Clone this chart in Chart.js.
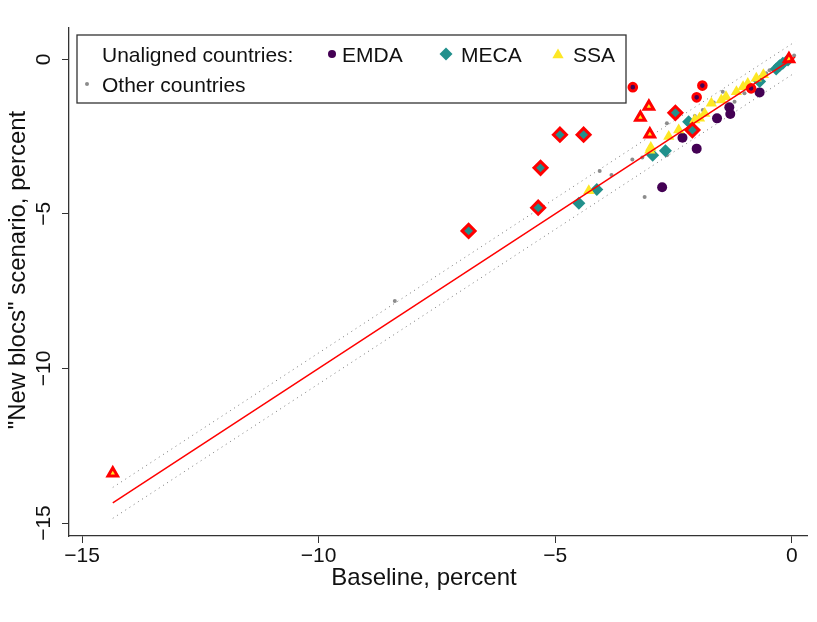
<!DOCTYPE html>
<html>
<head>
<meta charset="utf-8">
<title>New blocs vs baseline</title>
<script src="https://cdn.jsdelivr.net/npm/chart.js@4.4.1/dist/chart.umd.min.js"></script>
<style>
  html, body { margin: 0; padding: 0; background: #fff; }
  #wrap { width: 817px; height: 622px; }
</style>
</head>
<body>
<div id="wrap"><canvas id="myChart" width="817" height="622"></canvas></div>
<script>
// datos: [baseline, nuevo escenario] en porcentaje
const otherPoints = [
  [-8.39, -7.82], [-4.06, -3.61], [-3.81, -3.74], [-3.37, -3.24], [-3.16, -3.18],
  [-3.11, -4.45], [-2.64, -2.07], [-2.64, -3.10], [-2.05, -1.83], [-1.88, -1.64],
  [-1.65, -1.40], [-1.46, -1.05], [-1.21, -1.37], [-1.00, -1.10], [-0.54, -0.45],
  [-0.47, -0.35], [-0.30, -0.25], [-0.20, -0.10], [0.05, 0.12]
];
const emdaPoints = [
  [-0.68, -1.07], [-1.32, -1.55], [-1.30, -1.77], [-1.58, -1.91],
  [-2.31, -2.54], [-2.01, -2.89], [-2.74, -4.14]
];
const mecaPoints = [
  [-4.50, -4.66], [-4.12, -4.21], [-2.94, -3.10], [-2.67, -2.96], [-2.18, -2.02],
  [-0.68, -0.72], [-0.33, -0.31], [-0.26, -0.21], [-0.19, -0.13], [-0.08, -0.02]
];
const ssaPoints = [
  [-4.29, -4.25], [-3.00, -2.94], [-2.98, -2.85], [-2.60, -2.50], [-2.39, -2.29],
  [-2.05, -1.96], [-1.95, -1.91], [-1.84, -1.75], [-1.70, -1.42], [-1.49, -1.32],
  [-1.39, -1.21], [-1.17, -1.05], [-1.03, -0.89], [-0.93, -0.78], [-0.75, -0.61],
  [-0.60, -0.50]
];
// paises destacados (borde rojo)
const emdaRed = [[-3.36, -0.90], [-1.89, -0.85], [-2.01, -1.23], [-0.86, -0.94]];
const mecaRed = [
  [-6.83, -5.55], [-5.36, -4.80], [-5.31, -3.51], [-4.90, -2.44],
  [-4.40, -2.44], [-2.46, -1.73], [-2.10, -2.29]
];
const ssaRed = [[-14.35, -13.39], [-3.02, -1.53], [-3.20, -1.88], [-3.00, -2.42], [-0.06, 0.01]];
// linea roja y bandas punteadas
const fitLine = [[-14.35, -14.35], [0.07, 0.07]];
const upperBand = [[-14.35, -13.85], [0.07, 0.57]];
const lowerBand = [[-14.35, -14.85], [0.07, -0.43]];

const xTicks = [-15, -10, -5, 0];
const yTicks = [-15, -10, -5, 0];
const xTitle = 'Baseline, percent';
const yTitle = '"New blocs" scenario, percent';

const colEMDA = '#440154';
const colMECA = '#21908C';
const colSSA = '#FDE725';
const colOther = '#8c8c8c';
const colRed = '#FF0000';
const fontFam = "'Liberation Sans', Arial, Helvetica, sans-serif";

function toXY(arr) {
  return arr.map(p => ({ x: p[0], y: p[1] }));
}

function fmt(v) {
  return v < 0 ? '\u2212' + Math.abs(v) : String(v);
}

// titulos de ejes (desplazados como en el original)
const axisTitles = {
  id: 'axisTitles',
  afterDraw(chart) {
    const ctx = chart.ctx;
    ctx.save();
    ctx.font = '24px ' + fontFam;
    ctx.fillStyle = '#111';
    ctx.textAlign = 'center';
    ctx.textBaseline = 'middle';
    ctx.fillText(xTitle, 424, 578);
    ctx.translate(18, 270);
    ctx.rotate(-Math.PI / 2);
    ctx.fillText(yTitle, 0, 0);
    ctx.restore();
  }
};

// caja de leyenda dentro del grafico
const legendBox = {
  id: 'legendBox',
  afterDraw(chart) {
    const ctx = chart.ctx;
    ctx.save();
    ctx.fillStyle = '#fff';
    ctx.fillRect(77, 35, 549, 68);
    ctx.strokeStyle = '#333';
    ctx.lineWidth = 1.3;
    ctx.strokeRect(77, 35, 549, 68);

    ctx.font = '21px ' + fontFam;
    ctx.fillStyle = '#111';
    ctx.textBaseline = 'alphabetic';
    ctx.textAlign = 'left';
    ctx.fillText('Unaligned countries:', 102, 62);
    ctx.fillText('EMDA', 342, 62);
    ctx.fillText('MECA', 461, 62);
    ctx.fillText('SSA', 573, 62);
    ctx.fillText('Other countries', 102, 92);

    const marks = [
      { style: 'circle', r: 4, col: colEMDA, x: 332, y: 54 },
      { style: 'rectRot', r: 6.5, col: colMECA, x: 446, y: 54 },
      { style: 'triangle', r: 6.5, col: colSSA, x: 558, y: 55 },
      { style: 'circle', r: 2, col: colOther, x: 87, y: 84 }
    ];
    marks.forEach(m => {
      ctx.fillStyle = m.col;
      ctx.strokeStyle = m.col;
      Chart.helpers.drawPoint(ctx, { pointStyle: m.style, radius: m.r, rotation: 0, borderWidth: 0 }, m.x, m.y);
    });
    ctx.restore();
  }
};

const ctx = document.getElementById('myChart').getContext('2d');
const myChart = new Chart(ctx, {
  type: 'scatter',
  data: {
    datasets: [
      { label: 'fit', data: toXY(fitLine), showLine: true, borderColor: colRed, borderWidth: 1.5, pointRadius: 0, order: 0 },
      { label: 'SSA red', data: toXY(ssaRed), pointStyle: 'triangle', pointRadius: 5.5, backgroundColor: colSSA, borderColor: colRed, pointBorderWidth: 3, order: 1 },
      { label: 'MECA red', data: toXY(mecaRed), pointStyle: 'rectRot', pointRadius: 6.5, backgroundColor: colMECA, borderColor: colRed, pointBorderWidth: 3, order: 2 },
      { label: 'EMDA red', data: toXY(emdaRed), pointStyle: 'circle', pointRadius: 3.8, backgroundColor: colEMDA, borderColor: colRed, pointBorderWidth: 3, order: 3 },
      { label: 'SSA', data: toXY(ssaPoints), pointStyle: 'triangle', pointRadius: 6.5, backgroundColor: colSSA, borderColor: colSSA, pointBorderWidth: 0, order: 4 },
      { label: 'MECA', data: toXY(mecaPoints), pointStyle: 'rectRot', pointRadius: 6.5, backgroundColor: colMECA, borderColor: colMECA, pointBorderWidth: 0, order: 5 },
      { label: 'EMDA', data: toXY(emdaPoints), pointStyle: 'circle', pointRadius: 5, backgroundColor: colEMDA, borderColor: colEMDA, pointBorderWidth: 0, order: 6 },
      { label: 'Other', data: toXY(otherPoints), pointStyle: 'circle', pointRadius: 2, backgroundColor: colOther, borderColor: colOther, pointBorderWidth: 0, order: 7 },
      { label: 'upper', data: toXY(upperBand), showLine: true, borderColor: '#777', borderWidth: 1, borderDash: [1, 4], pointRadius: 0, order: 8 },
      { label: 'lower', data: toXY(lowerBand), showLine: true, borderColor: '#777', borderWidth: 1, borderDash: [1, 4], pointRadius: 0, order: 9 }
    ]
  },
  options: {
    responsive: false,
    animation: false,
    layout: { padding: { top: 28, right: 9, left: 0, bottom: 0 } },
    plugins: {
      legend: { display: false },
      tooltip: { enabled: false }
    },
    scales: {
      x: {
        type: 'linear',
        min: -15.275,
        max: 0.332,
        afterBuildTicks: s => { s.ticks = xTicks.map(v => ({ value: v })); },
        afterFit: s => { s.height = 86; },
        grid: { drawOnChartArea: false, tickLength: 7, color: '#333', lineWidth: 1 },
        border: { color: '#333', width: 1.3 },
        ticks: { font: { family: fontFam, size: 21 }, color: '#111', padding: 1, maxRotation: 0, callback: v => fmt(v) },
        title: { display: false }
      },
      y: {
        type: 'linear',
        min: -15.42,
        max: 1.013,
        afterBuildTicks: s => { s.ticks = yTicks.map(v => ({ value: v })); },
        afterFit: s => { s.width = 69; },
        grid: { drawOnChartArea: false, tickLength: 7, color: '#333', lineWidth: 1 },
        border: { color: '#333', width: 1.3 },
        ticks: { font: { family: fontFam, size: 21 }, color: '#111', padding: 0, minRotation: 90, maxRotation: 90, crossAlign: 'center', callback: v => fmt(v) },
        title: { display: false }
      }
    }
  },
  plugins: [legendBox, axisTitles]
});
</script>
</body>
</html>
